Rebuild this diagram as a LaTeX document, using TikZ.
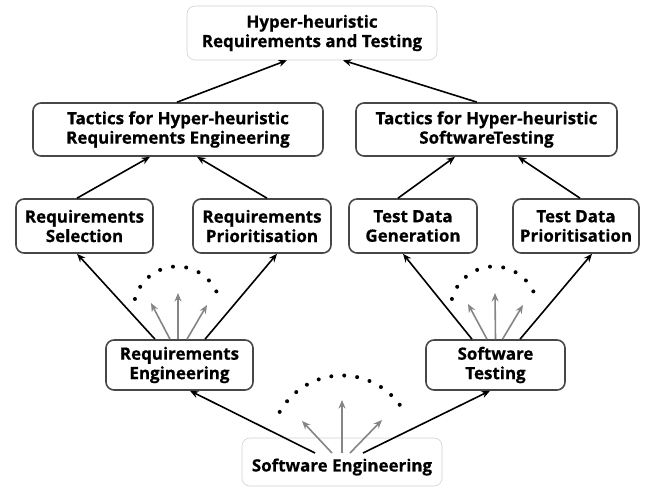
\documentclass[tikz,border=0pt]{standalone}
\usepackage{fontspec}
\newfontfamily\boxfont[BoldFeatures={FakeBold=0.6}]{Open Sans}
\usetikzlibrary{arrows.meta}
\tikzset{
  box/.style={draw=black!72, line width=1.6bp, rounded corners=8bp, fill=white, align=center,
    font=\boxfont\bfseries\fontsize{17}{19.5}\selectfont, inner sep=0pt},
  lightbox/.style={box, draw=black!18, line width=0.6bp},
  arr/.style={-{Stealth[length=8.5bp,width=7bp]}, line width=1.6bp, draw=black},
  garr/.style={arr, draw=black!48},
  dot/.style={fill=black}
}
\begin{document}
\begin{tikzpicture}[x=1bp,y=-1bp]
\useasboundingbox (0,0) rectangle (646,488);
% nodes
\node[lightbox, minimum width=250bp, minimum height=54bp] (top) at (312,33) {Hyper-heuristic\\Requirements and Testing};
\node[box, minimum width=290bp, minimum height=53bp] (tre) at (178,129.5) {Tactics for Hyper-heuristic\\Requirements Engineering};
\node[box, minimum width=261bp, minimum height=53bp] (tst) at (486.5,129.5) {Tactics for Hyper-heuristic\\Software\kern-0.1emTesting};
\node[box, minimum width=137bp, minimum height=54bp] (rsel) at (84.5,226) {Requirements\\Selection};
\node[box, minimum width=138bp, minimum height=54bp] (rprio) at (262,226) {Requirements\\Prioritisation};
\node[box, minimum width=128bp, minimum height=54bp] (tdg) at (413,226) {Test Data\\Generation};
\node[box, minimum width=126bp, minimum height=54bp] (tdp) at (576,226) {Test Data\\Prioritisation};
\node[box, minimum width=147bp, minimum height=50bp] (re) at (179.5,365) {Requirements\\Engineering};
\node[box, minimum width=139bp, minimum height=50bp] (st) at (495.5,365) {Software\\Testing};
\node[lightbox, minimum width=200bp, minimum height=48bp, text depth=0pt] (se) at (342,462) {\raisebox{-6bp}{Software Engineering}};

% top level arrows
\draw[arr] ([xshift=-1bp]tre.north) -- ([xshift=-25bp]top.south);
\draw[arr] ([xshift=-9.5bp]tst.north) -- ([xshift=31bp]top.south);
% tactics arrows
\draw[arr] ([xshift=-7.5bp]rsel.north) -- ([xshift=-28bp]tre.south);
\draw[arr] ([xshift=5bp]rprio.north) -- ([xshift=19bp]tre.south);
\draw[arr] ([xshift=-15bp]tdg.north) -- ([xshift=-31.5bp]tst.south);
\draw[arr] ([xshift=4bp]tdp.north) -- ([xshift=31.5bp]tst.south);
% RE arrows
\draw[arr] ([xshift=-24.5bp]re.north) -- ([xshift=-7.5bp]rsel.south);
\draw[arr] ([xshift=25.5bp]re.north) -- ([xshift=15bp]rprio.south);
\coordinate (reA) at (151,303);
\coordinate (reB) at (178,293);
\coordinate (reC) at (207,305);
\draw[garr] ([xshift=-9.5bp]re.north) -- (reA);
\draw[garr] ([xshift=-1.5bp]re.north) -- (reB);
\draw[garr] ([xshift=7.5bp]re.north) -- (reC);
\foreach \a in {0,...,8} \fill[dot] ({177+43.5*cos(165.3-17.5*\a)},{310-43.5*sin(165.3-17.5*\a)}) circle (2bp);
% ST arrows
\draw[arr] ([xshift=-23.5bp]st.north) -- ([xshift=-10bp]tdg.south);
\draw[arr] ([xshift=24.5bp]st.north) -- ([xshift=16bp]tdp.south);
\coordinate (stA) at (468,304);
\coordinate (stB) at (495,293);
\coordinate (stC) at (523,305);
\draw[garr] ([xshift=-8.5bp]st.north) -- (stA);
\draw[garr] ([xshift=0bp]st.north) -- (stB);
\draw[garr] ([xshift=7bp]st.north) -- (stC);
\foreach \a in {0,...,8} \fill[dot] ({494+43.5*cos(165.3-17.5*\a)},{310-43.5*sin(165.3-17.5*\a)}) circle (2bp);
% SE arrows
\draw[arr] ([shift={(-27,-9)}]se.center) -- ([xshift=10.5bp]re.south);
\draw[arr] ([shift={(21,-9)}]se.center) -- ([xshift=-5.5bp]st.south);
\coordinate (seA) at (302,421);
\coordinate (seB) at (342,400);
\coordinate (seC) at (382,420);
\draw[garr] ([shift={(-10,-9)}]se.center) -- (seA);
\draw[garr] ([shift={(0,-9)}]se.center) -- (seB);
\draw[garr] ([shift={(8,-9)}]se.center) -- (seC);
\foreach \a in {0,...,11} \fill[dot] ({342+71.5*cos(150.6-10.4*\a)},{447-71.5*sin(150.6-10.4*\a)}) circle (2bp);
\end{tikzpicture}
\end{document}
